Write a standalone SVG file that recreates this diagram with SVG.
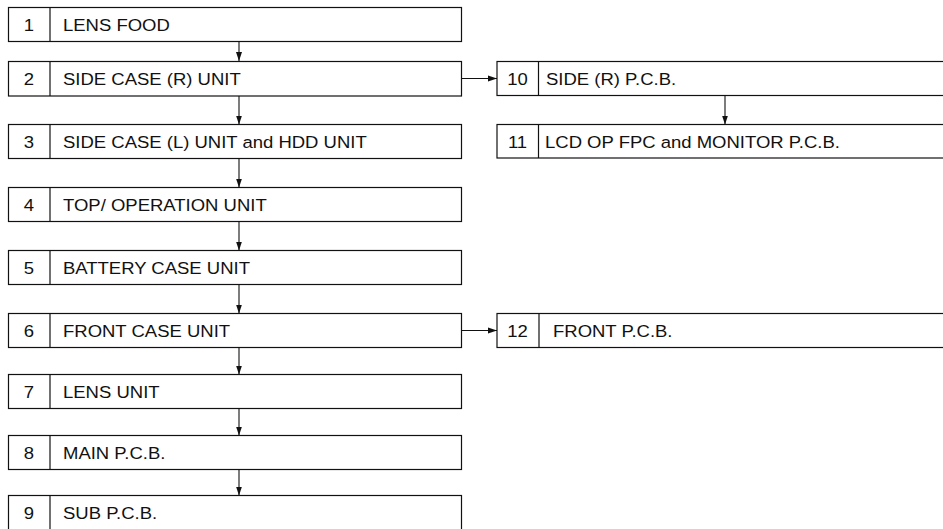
<svg xmlns="http://www.w3.org/2000/svg" width="943" height="529" viewBox="0 0 943 529">
<style>
.b{fill:#fff;stroke:#111;stroke-width:1.2}
.d{stroke:#111;stroke-width:1.2}
.t{font-family:"Liberation Sans",Arial,sans-serif;font-size:16.3px;fill:#111}
.n{text-anchor:middle}
.c{stroke:#111;stroke-width:1.1;fill:none;marker-end:url(#ah)}
</style>
<defs>
<marker id="ah" markerUnits="userSpaceOnUse" markerWidth="10" markerHeight="8" refX="9" refY="3.5" orient="auto">
<path d="M0,0.5 L9,3.5 L0,6.5 Z" fill="#111"/>
</marker>
</defs>
<rect width="943" height="529" fill="#fff"/>
<g id="connectors">
<line class="c" x1="239" y1="41.5" x2="239" y2="61"/>
<line class="c" x1="239" y1="96" x2="239" y2="124.5"/>
<line class="c" x1="239" y1="158.5" x2="239" y2="187.5"/>
<line class="c" x1="239" y1="221.5" x2="239" y2="250.5"/>
<line class="c" x1="239" y1="284.5" x2="239" y2="313.5"/>
<line class="c" x1="239" y1="347.5" x2="239" y2="374.5"/>
<line class="c" x1="239" y1="408.5" x2="239" y2="435.5"/>
<line class="c" x1="239" y1="469.5" x2="239" y2="495.5"/>
<line class="c" x1="462" y1="78.5" x2="497" y2="78.5"/>
<line class="c" x1="462" y1="330.5" x2="497" y2="330.5"/>
<line class="c" x1="725" y1="95.5" x2="725" y2="124.5"/>
</g>
<g id="n1"><rect class="b" x="8.5" y="7.5" width="453" height="34"/><line class="d" x1="50" y1="7.5" x2="50" y2="41.5"/>
<text class="t n" transform="translate(29,30.5) scale(1.135,1)">1</text><text class="t" transform="translate(63,30.5) scale(1.135,1)">LENS FOOD</text></g>
<g id="n2"><rect class="b" x="8.5" y="61.5" width="453" height="34.5"/><line class="d" x1="50" y1="61.5" x2="50" y2="96"/>
<text class="t n" transform="translate(29,84.5) scale(1.135,1)">2</text><text class="t" transform="translate(63,84.5) scale(1.135,1)">SIDE CASE (R) UNIT</text></g>
<g id="n3"><rect class="b" x="8.5" y="124.5" width="453" height="34"/><line class="d" x1="50" y1="124.5" x2="50" y2="158.5"/>
<text class="t n" transform="translate(29,147.5) scale(1.135,1)">3</text><text class="t" transform="translate(63,147.5) scale(1.135,1)">SIDE CASE (L) UNIT and HDD UNIT</text></g>
<g id="n4"><rect class="b" x="8.5" y="187.5" width="453" height="34"/><line class="d" x1="50" y1="187.5" x2="50" y2="221.5"/>
<text class="t n" transform="translate(29,210.5) scale(1.135,1)">4</text><text class="t" transform="translate(63,210.5) scale(1.135,1)">TOP/ OPERATION UNIT</text></g>
<g id="n5"><rect class="b" x="8.5" y="250.5" width="453" height="34"/><line class="d" x1="50" y1="250.5" x2="50" y2="284.5"/>
<text class="t n" transform="translate(29,273.5) scale(1.135,1)">5</text><text class="t" transform="translate(63,273.5) scale(1.135,1)">BATTERY CASE UNIT</text></g>
<g id="n6"><rect class="b" x="8.5" y="313.5" width="453" height="34"/><line class="d" x1="50" y1="313.5" x2="50" y2="347.5"/>
<text class="t n" transform="translate(29,336.5) scale(1.135,1)">6</text><text class="t" transform="translate(63,336.5) scale(1.135,1)">FRONT CASE UNIT</text></g>
<g id="n7"><rect class="b" x="8.5" y="374.5" width="453" height="34"/><line class="d" x1="50" y1="374.5" x2="50" y2="408.5"/>
<text class="t n" transform="translate(29,397.5) scale(1.135,1)">7</text><text class="t" transform="translate(63,397.5) scale(1.135,1)">LENS UNIT</text></g>
<g id="n8"><rect class="b" x="8.5" y="435.5" width="453" height="34"/><line class="d" x1="50" y1="435.5" x2="50" y2="469.5"/>
<text class="t n" transform="translate(29,458.5) scale(1.135,1)">8</text><text class="t" transform="translate(63,458.5) scale(1.135,1)">MAIN P.C.B.</text></g>
<g id="n9"><rect class="b" x="8.5" y="495.5" width="453" height="40"/><line class="d" x1="50" y1="495.5" x2="50" y2="535"/>
<text class="t n" transform="translate(29,518.5) scale(1.135,1)">9</text><text class="t" transform="translate(63,518.5) scale(1.135,1)">SUB P.C.B.</text></g>
<g id="n10"><rect class="b" x="497" y="61.5" width="460" height="34"/><line class="d" x1="538.5" y1="61.5" x2="538.5" y2="95.5"/>
<text class="t n" transform="translate(517.5,84.5) scale(1.135,1)">10</text><text class="t" transform="translate(546,84.5) scale(1.135,1)">SIDE (R) P.C.B.</text></g>
<g id="n11"><rect class="b" x="497" y="124.5" width="460" height="33.5"/><line class="d" x1="538.5" y1="124.5" x2="538.5" y2="158"/>
<text class="t n" transform="translate(517.5,147.5) scale(1.135,1)">11</text><text class="t" transform="translate(545,147.5) scale(1.135,1)">LCD OP FPC and MONITOR P.C.B.</text></g>
<g id="n12"><rect class="b" x="497" y="313.5" width="460" height="34"/><line class="d" x1="539" y1="313.5" x2="539" y2="347.5"/>
<text class="t n" transform="translate(517.5,336.5) scale(1.135,1)">12</text><text class="t" transform="translate(553,336.5) scale(1.135,1)">FRONT P.C.B.</text></g>
</svg>
